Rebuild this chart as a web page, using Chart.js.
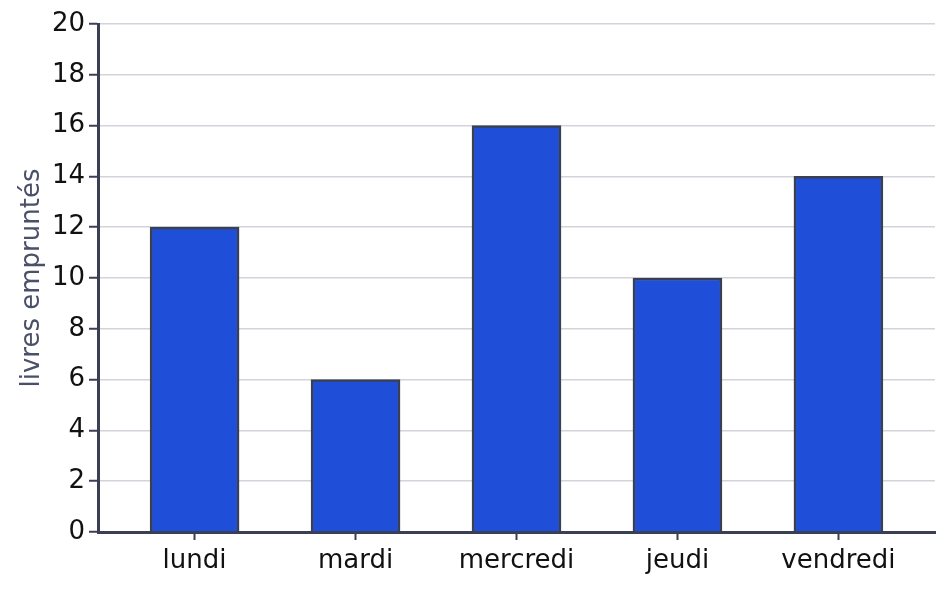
<!DOCTYPE html>
<html>
<head>
<meta charset="utf-8">
<script src="https://cdn.jsdelivr.net/npm/chart.js@4"></script>
<style>
  html, body { margin: 0; padding: 0; background: #fff; }
  #wrap { width: 950px; height: 589px; }
</style>
</head>
<body>
<div id="wrap"><canvas id="chart"></canvas></div>
<script>
"use strict";

const days = ['lundi', 'mardi', 'mercredi', 'jeudi', 'vendredi'];
const livres = [12, 6, 16, 10, 14];
const yTicks = [0, 2, 4, 6, 8, 10, 12, 14, 16, 18, 20];

const dark = '#3a4052';
const font = { family: 'DejaVu Sans', size: 26 };

const points = days.map((d, i) => ({ x: i, y: livres[i] }));

new Chart(document.getElementById('chart'), {
  type: 'bar',
  data: {
    datasets: [{
      data: points,
      backgroundColor: '#1f4fd8',
      borderColor: dark,
      borderWidth: 2.5,
      barThickness: 89
    }]
  },
  options: {
    responsive: true,
    maintainAspectRatio: false,
    animation: false,
    layout: { padding: { top: 24, right: 15, bottom: 0, left: 0 } },
    plugins: { legend: { display: false }, tooltip: { enabled: false } },
    scales: {
      x: {
        type: 'linear',
        offset: false,
        min: -0.6,
        max: 4.6,
        afterBuildTicks: scale => { scale.ticks = days.map((d, i) => ({ value: i })); },
        afterFit: scale => { scale.height = 57; },
        ticks: {
          color: '#111',
          font: font,
          padding: 6,
          maxRotation: 0,
          autoSkip: false,
          callback: v => days[v]
        },
        grid: { offset: false, drawOnChartArea: false, tickLength: 8, tickColor: dark, tickWidth: 2 },
        border: { color: dark, width: 3 }
      },
      y: {
        min: 0,
        max: 20,
        afterBuildTicks: scale => { scale.ticks = yTicks.map(v => ({ value: v })); },
        afterFit: scale => { scale.width = 98; },
        ticks: { color: '#111', font: font, padding: 4 },
        grid: { color: '#d2d4da', lineWidth: 1.5, tickLength: 9, tickColor: dark, tickWidth: 2 },
        border: { color: dark, width: 3 },
        title: {
          display: true,
          text: 'livres empruntés',
          color: '#4a5068',
          font: font,
          padding: { top: 17, bottom: 0 }
        }
      }
    }
  }
});
</script>
</body>
</html>
